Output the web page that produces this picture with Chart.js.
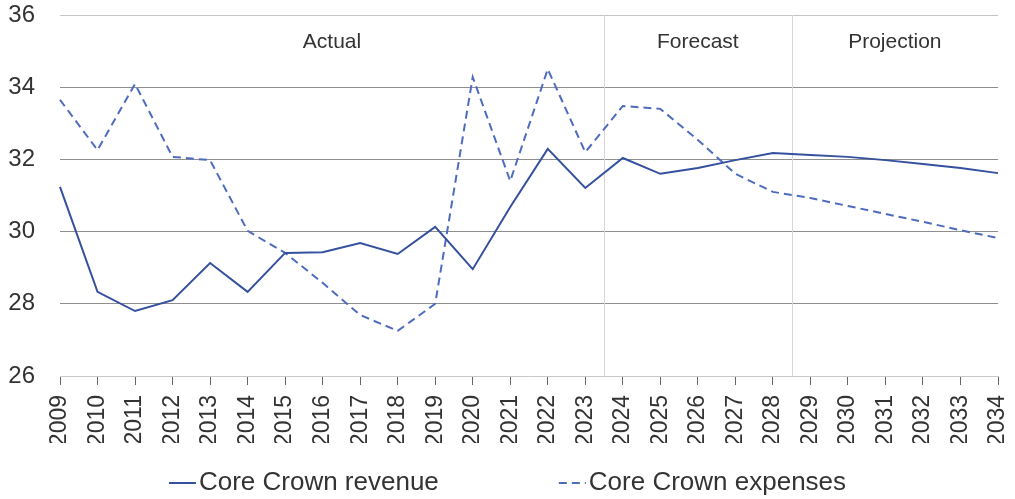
<!DOCTYPE html>
<html>
<head>
<meta charset="utf-8">
<script src="https://cdn.jsdelivr.net/npm/chart.js@4/dist/chart.umd.min.js"></script>
<style>
  html, body { margin: 0; padding: 0; background: #ffffff; }
  #wrap { width: 1015px; height: 499px; position: relative; }
</style>
</head>
<body>
<div id="wrap"><canvas id="c" width="1015" height="499"></canvas></div>
<script>
const years = ['2009','2010','2011','2012','2013','2014','2015','2016','2017','2018','2019','2020','2021','2022','2023','2024','2025','2026','2027','2028','2029','2030','2031','2032','2033','2034'];
const revenue = [31.24,28.33,27.8,28.1,29.13,28.33,29.41,29.43,29.68,29.38,30.13,28.96,30.68,32.29,31.21,32.04,31.6,31.76,31.98,32.18,32.12,32.07,31.98,31.87,31.76,31.62];
const expenses = [33.65,32.26,34.09,32.07,31.98,30.02,29.41,28.58,27.69,27.25,28.0,34.28,31.4,34.5,32.2,33.48,33.4,32.54,31.6,31.1,30.93,30.71,30.49,30.27,30.04,29.82];
const seriesNames = ['Core Crown revenue','Core Crown expenses'];
const sectionLabels = ['Actual','Forecast','Projection'];
const sectionBreakAfter = ['2023','2028'];
const yTicks = [26,28,30,32,34,36];

const FONT = "'Liberation Sans', Arial, sans-serif";
const TEXT = '#333333';

function zeroPad(scale) {
  scale.paddingLeft = 0; scale.paddingRight = 0;
  scale.paddingTop = 0; scale.paddingBottom = 0;
}

const sectionsPlugin = {
  id: 'sections',
  beforeDatasetsDraw(chart) {
    const { ctx, chartArea, scales } = chart;
    const x = scales.x;
    const xs = sectionBreakAfter.map(l => {
      const i = years.indexOf(l);
      return (x.getPixelForValue(i) + x.getPixelForValue(i + 1)) / 2;
    });
    ctx.save();
    ctx.strokeStyle = '#d6d6d6';
    ctx.lineWidth = 1;
    xs.forEach(px => {
      ctx.beginPath();
      ctx.moveTo(Math.round(px) + 0.5, chartArea.top);
      ctx.lineTo(Math.round(px) + 0.5, chartArea.bottom);
      ctx.stroke();
    });
    const bounds = [chartArea.left, ...xs, chartArea.right];
    ctx.fillStyle = TEXT;
    ctx.font = '21px ' + FONT;
    ctx.textAlign = 'center';
    ctx.textBaseline = 'middle';
    sectionLabels.forEach((t, k) => {
      ctx.fillText(t, (bounds[k] + bounds[k + 1]) / 2, chartArea.top + 27);
    });
    ctx.restore();
  }
};

const legendPlugin = {
  id: 'customLegend',
  afterDraw(chart) {
    const { ctx } = chart;
    const ds = chart.data.datasets;
    const sample = 27, gap = 3, spacing = 120;
    ctx.save();
    ctx.font = '26px ' + FONT;
    const widths = ds.map(d => sample + gap + ctx.measureText(d.label).width);
    const total = widths.reduce((a, b) => a + b, 0) + spacing * (ds.length - 1);
    let x = (chart.width - total) / 2;
    const y = chart.height - 16;
    ds.forEach((d, i) => {
      ctx.strokeStyle = d.borderColor;
      ctx.lineWidth = 2;
      ctx.setLineDash(d.borderDash || []);
      ctx.beginPath();
      ctx.moveTo(x, y);
      ctx.lineTo(x + sample, y);
      ctx.stroke();
      ctx.setLineDash([]);
      ctx.fillStyle = TEXT;
      ctx.textAlign = 'left';
      ctx.textBaseline = 'middle';
      ctx.fillText(d.label, x + sample + gap, y);
      x += widths[i] + spacing;
    });
    ctx.restore();
  }
};

new Chart(document.getElementById('c'), {
  type: 'line',
  data: {
    labels: years,
    datasets: [
      {
        label: seriesNames[0],
        data: revenue,
        borderColor: '#34509e',
        borderWidth: 2,
        pointRadius: 0,
        tension: 0,
        fill: false
      },
      {
        label: seriesNames[1],
        data: expenses,
        borderColor: '#4d6bbf',
        borderWidth: 2,
        borderDash: [8, 5],
        pointRadius: 0,
        tension: 0,
        fill: false
      }
    ]
  },
  options: {
    responsive: false,
    animation: false,
    devicePixelRatio: 1,
    layout: { padding: { left: 8, right: 17, top: 15, bottom: 56 } },
    plugins: {
      legend: { display: false },
      tooltip: { enabled: false }
    },
    scales: {
      x: {
        offset: false,
        afterFit(scale) { zeroPad(scale); scale.height = 67; },
        grid: {
          display: true,
          drawOnChartArea: false,
          drawTicks: true,
          tickLength: 9,
          color: '#666666'
        },
        border: { display: true, color: '#c8c8c8', width: 1 },
        ticks: {
          autoSkip: false,
          maxRotation: 90,
          minRotation: 90,
          padding: 10,
          color: TEXT,
          font: { family: FONT, size: 23 }
        }
      },
      y: {
        min: 26,
        max: 36,
        afterFit(scale) { zeroPad(scale); scale.width = 52; },
        afterBuildTicks(scale) { scale.ticks = yTicks.map(v => ({ value: v })); },
        grid: {
          drawTicks: false,
          color: ctx => {
            const v = ctx.tick && ctx.tick.value;
            if (v === 36) return '#c4c4c4';
            if (v === 26) return 'rgba(0,0,0,0)';
            return '#8e8e8e';
          },
          lineWidth: 1
        },
        border: { display: false },
        ticks: {
          padding: 25,
          color: TEXT,
          font: { family: FONT, size: 24 }
        }
      }
    }
  },
  plugins: [sectionsPlugin, legendPlugin]
});
</script>
</body>
</html>
